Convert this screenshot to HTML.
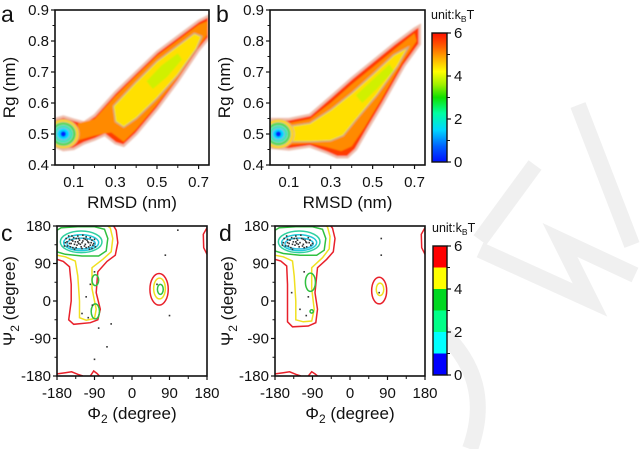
<!DOCTYPE html>
<html><head><meta charset="utf-8"><style>
html,body{margin:0;padding:0;background:#fff;}
svg{display:block;font-family:"Liberation Sans",Arial,sans-serif;}
</style></head><body>
<svg id="fig" width="640" height="449" viewBox="0 0 640 449" xmlns="http://www.w3.org/2000/svg">
<defs>
<filter id="soft" x="-5%" y="-5%" width="110%" height="110%"><feGaussianBlur stdDeviation="0.9"/></filter>
<linearGradient id="jet" x1="0" y1="1" x2="0" y2="0">
<stop offset="0" stop-color="#0010ff"/><stop offset="0.12" stop-color="#0060ff"/><stop offset="0.25" stop-color="#00d8ff"/>
<stop offset="0.38" stop-color="#00ffa0"/><stop offset="0.5" stop-color="#10e000"/><stop offset="0.6" stop-color="#a0f000"/>
<stop offset="0.7" stop-color="#ffff00"/><stop offset="0.8" stop-color="#ffb000"/><stop offset="0.9" stop-color="#ff5a00"/><stop offset="1" stop-color="#ff1000"/>
</linearGradient>
</defs>
<g stroke="#f0f0f0" fill="none" stroke-width="16">
<path d="M578 105 L632 245"/><path d="M535 165 L480 240"/><path d="M480 250 L590 300 L560 240 L635 275"/>
<path d="M440 330 Q495 380 470 449"/>
</g>
<g id="plots"></g>
</svg>
<script>
// ===== Data: panel a (RMSD nm, Rg nm) =====
const aOuter = [[0.01,0.548],[0.05,0.556],[0.1,0.546],[0.15,0.537],[0.2,0.56],[0.3,0.635],[0.4,0.70],[0.5,0.765],[0.6,0.815],[0.7,0.865],[0.75,0.882],[0.75,0.81],[0.7,0.77],[0.6,0.67],[0.5,0.58],[0.4,0.50],[0.34,0.462],[0.3,0.47],[0.25,0.497],[0.2,0.482],[0.15,0.47],[0.1,0.452],[0.05,0.448],[0.01,0.46]];
const aOrange = [[0.12,0.535],[0.2,0.548],[0.3,0.622],[0.4,0.688],[0.5,0.752],[0.6,0.802],[0.7,0.852],[0.745,0.865],[0.742,0.82],[0.7,0.782],[0.6,0.68],[0.5,0.595],[0.4,0.515],[0.34,0.475],[0.28,0.505],[0.2,0.495],[0.12,0.48]];
const aYellow = [[0.29,0.59],[0.4,0.668],[0.5,0.735],[0.6,0.785],[0.68,0.825],[0.715,0.815],[0.69,0.775],[0.6,0.69],[0.5,0.615],[0.4,0.55],[0.34,0.522],[0.3,0.54]];
const aLime = [[0.45,0.67],[0.52,0.72],[0.6,0.76],[0.62,0.74],[0.55,0.685],[0.48,0.645]];
const aBasin = [[0.05,0.5,0.075,0.047],[0.05,0.5,0.06,0.038],[0.05,0.5,0.046,0.029],[0.05,0.5,0.032,0.02],[0.05,0.5,0.013,0.009]];
// ===== Data: panel b =====
const bOuter = [[0.01,0.548],[0.1,0.548],[0.2,0.562],[0.3,0.62],[0.4,0.68],[0.5,0.735],[0.6,0.79],[0.7,0.84],[0.725,0.85],[0.725,0.79],[0.65,0.72],[0.55,0.6],[0.48,0.52],[0.42,0.45],[0.38,0.425],[0.33,0.425],[0.28,0.44],[0.2,0.46],[0.1,0.45],[0.01,0.456]];
const bOrange = [[0.1,0.535],[0.2,0.548],[0.3,0.6],[0.4,0.66],[0.5,0.715],[0.6,0.77],[0.7,0.825],[0.71,0.8],[0.64,0.73],[0.54,0.61],[0.46,0.52],[0.4,0.46],[0.35,0.445],[0.28,0.458],[0.2,0.47],[0.1,0.465]];
const bYellow = [[0.1,0.525],[0.2,0.535],[0.3,0.578],[0.4,0.632],[0.5,0.692],[0.6,0.755],[0.67,0.78],[0.62,0.72],[0.52,0.625],[0.42,0.545],[0.36,0.495],[0.3,0.478],[0.2,0.475],[0.1,0.475]];
const bLime = [[0.42,0.625],[0.5,0.675],[0.58,0.725],[0.6,0.705],[0.52,0.645],[0.45,0.6]];
const bBasin = [[0.05,0.5,0.075,0.047],[0.05,0.5,0.058,0.037],[0.05,0.5,0.045,0.028],[0.05,0.5,0.031,0.019],[0.05,0.5,0.013,0.009]];
// ===== Data: panel c (Phi2, Psi2 degrees) =====
const cRed = [[-180,100],[-165,95],[-150,82],[-146,40],[-146,0],[-152,-45],[-140,-56],[-100,-52],[-82,-45],[-76,-20],[-86,20],[-82,70],[-60,95],[-40,110],[-34,140],[-38,170],[-44,180]];
const cYellow = [[-180,110],[-160,106],[-136,96],[-130,60],[-126,0],[-126,-40],[-110,-46],[-90,-42],[-86,-20],[-96,30],[-96,80],[-70,100],[-50,118],[-46,150],[-52,175],[-58,180]];
const cGreen = [[-180,118],[-160,112],[-120,108],[-80,108],[-62,120],[-58,150],[-66,172],[-90,178],[-130,178],[-170,176],[-180,170]];
const cLoops = [[-88,50,8,13],[-88,-25,10,18]];
const cRings = [[-122,142,50,26],[-122,140,42,19],[-122,138,34,13]];
const cSide = [[65,28,22,38],[66,30,14,25],[68,28,7,12]];
const cEdge = [[180,112],[172,128],[171,160],[180,176]];
const cBottom = [[-180,-175],[-160,-172],[-145,-170],[-130,-176],[-118,-180]];
const cBottom2 = [[-100,-180],[-92,-168],[-84,-174],[-78,-180]];
const cDots = [[-160,140],[-155,132],[-150,148],[-146,138],[-142,128],[-140,152],[-136,142],[-132,134],[-130,156],[-126,146],[-122,130],[-120,140],[-116,150],[-112,136],[-108,146],[-104,130],[-100,152],[-98,140],[-94,134],[-90,148],[-152,156],[-144,146],[-118,158],[-110,128],[-134,150],[-128,138],[-106,142],[-96,126],[-158,150],[-138,124],[-162,132],[-156,142],[-148,130],[-144,156],[-138,136],[-134,128],[-128,150],[-124,136],[-118,144],[-114,132],[-110,154],[-104,140],[-102,124],[-96,146],[-92,138],[-88,130],[-150,138],[-142,144],[-130,142],[-120,126],[-112,148],[-100,134],[-90,70],[-100,40],[-110,10],[-95,-10],[-120,-30],[-105,-40],[-80,-65],[-50,-55],[-90,-140],[-60,-110],[90,-35],[80,110],[110,170],[60,40]];
// ===== Data: panel d =====
const dRed = [[-180,100],[-166,96],[-152,84],[-150,40],[-150,0],[-150,-50],[-138,-62],[-100,-60],[-82,-52],[-78,-20],[-84,20],[-78,80],[-56,100],[-40,118],[-36,150],[-42,175],[-46,180]];
const dYellow = [[-180,110],[-160,106],[-138,96],[-134,60],[-130,0],[-130,-45],[-112,-50],[-92,-48],[-86,-20],[-92,30],[-92,80],[-66,104],[-50,125],[-48,155],[-54,178],[-58,180]];
const dGreen = [[-180,120],[-160,114],[-120,110],[-80,110],[-62,122],[-58,150],[-66,172],[-90,178],[-130,178],[-170,176],[-180,170]];
const dLoops = [[-95,45,12,22],[-92,-25,4,4]];
const dRings = [[-122,142,50,26],[-122,140,42,19],[-122,138,34,13]];
const dSide = [[70,25,18,32],[72,28,9,15]];
const dEdge = [[180,112],[172,128],[171,160],[180,176]];
const dBottom = [[-180,-175],[-160,-172],[-145,-170],[-130,-176],[-118,-180]];
const dBottom2 = [[-100,-180],[-92,-170],[-84,-175],[-78,-180]];
const dDots = [[-160,140],[-155,132],[-150,148],[-146,138],[-142,128],[-140,152],[-136,142],[-132,134],[-130,156],[-126,146],[-122,130],[-120,140],[-116,150],[-112,136],[-108,146],[-104,130],[-100,152],[-98,140],[-94,134],[-152,156],[-144,146],[-118,158],[-110,128],[-134,150],[-128,138],[-106,142],[-158,150],[-138,124],[-162,134],[-148,132],[-138,136],[-128,150],[-124,136],[-114,132],[-104,140],[-96,146],[-90,138],[-150,140],[-130,142],[-112,148],[-110,70],[-100,10],[-120,-20],[-105,-35],[-140,20],[70,20],[75,150],[75,110]];
// ===== Axis ticks =====
const rgTicks = [0.4,0.5,0.6,0.7,0.8,0.9];
const rmsdTicks = [0.1,0.3,0.5,0.7];
const rmsdMinor = [0.2,0.4,0.6];
const angTicks = [-180,-90,0,90,180];
const angMinor = [-135,-45,45,135];
const cbTicks = [0,2,4,6];
const cbMinor = [1,3,5];
const dBands = [0,1,2,3,4,5];

const NS="http://www.w3.org/2000/svg";
const root=document.getElementById('plots');
const TK=15, TT=17;
function mk(tag,attrs,parent){const e=document.createElementNS(NS,tag);for(const k in attrs)e.setAttribute(k,attrs[k]);(parent||root).appendChild(e);return e;}
function txt(s,x,y,size,anchor,parent){const t=mk('text',{x:x,y:y,'font-size':size,'text-anchor':anchor||'middle',fill:'#111'},parent);t.textContent=s;return t;}
function lin(d0,d1,p0,p1){return v=>p0+(v-d0)/(d1-d0)*(p1-p0);}
function pts(arr,sx,sy){return arr.map(p=>sx(p[0]).toFixed(1)+','+sy(p[1]).toFixed(1)).join(' ');}

function panelRg(id,L,R,outer,orange,yellow,lime,basin,label){
  const T=10,B=165;
  const sx=lin(0.01,0.75,L,R), sy=lin(0.4,0.9,B,T);
  const g=mk('g',{});
  
  
  const clipId='clip'+id;
  const cp=mk('clipPath',{id:clipId},g);mk('rect',{x:L,y:T,width:R-L,height:B-T},cp);
  const lg=mk('g',{'clip-path':'url(#'+clipId+')'},g);
  
  
  const fg=mk('g',{filter:'url(#soft)'},lg);
  const e1=mk('polygon',{points:pts(outer,sx,sy),fill:'#ff3c00',stroke:'#eec0b0','stroke-width':2.5},fg);
  
  const e2=mk('polygon',{points:pts(orange,sx,sy),fill:'#ff8a00'},fg);
  
  const e3=mk('polygon',{points:pts(yellow,sx,sy),fill:'#ffe000',stroke:'#c8b090','stroke-width':1.2},fg);
  
  const e4=mk('polygon',{points:pts(lime,sx,sy),fill:'#d0f000'},fg);
  
  const bcol=['#ffd800','#30e030','#00f0b0','#00d8ff','#0020ff'];
  const bstroke=['#e0b080','#b0c0a0','#a0c0c0','#90b0d0','none'];
  basin.forEach((b,i)=>{const el=mk('ellipse',{cx:sx(b[0]),cy:sy(b[1]),rx:Math.abs(sx(b[0]+b[2])-sx(b[0])),ry:Math.abs(sy(b[1]+b[3])-sy(b[1])),fill:bcol[i],stroke:bstroke[i],'stroke-width':1},fg);
    });
  const fr=mk('rect',{x:L,y:T,width:R-L,height:B-T,fill:'none',stroke:'#111','stroke-width':1.6},g);
  
  rgTicks.forEach(v=>{mk('line',{x1:L-4,x2:L,y1:sy(v),y2:sy(v),stroke:'#111','stroke-width':1.2},g);
    const t=txt(v.toFixed(1),L-6,sy(v)+5,TK,'end',g);
    if(v<0.9){mk('line',{x1:L-2.5,x2:L,y1:sy(v+0.05),y2:sy(v+0.05),stroke:'#111','stroke-width':1},g);}});
  rmsdTicks.forEach(v=>{mk('line',{x1:sx(v),x2:sx(v),y1:B,y2:B+4,stroke:'#111','stroke-width':1.2},g);
    const t=txt(v.toFixed(1),sx(v),B+22,TK,'middle',g);});
  rmsdMinor.forEach(v=>mk('line',{x1:sx(v),x2:sx(v),y1:B,y2:B+3,stroke:'#111','stroke-width':1},g));
  const xt=txt('RMSD (nm)',(L+R)/2,B+43,TT,'middle',g);
  const yt=txt('Rg (nm)',0,0,TT,'middle',g);yt.setAttribute('transform','translate('+(L-40)+','+((T+B)/2)+') rotate(-90)');
  
  const pl=txt(label,L-54,22,23,'start',g);
}

function panelRama(id,L,R,red,yellow,green,loops,rings,side,edge,bottom,bottom2,dots,label){
  const T=226,B=376;
  const sx=lin(-180,180,L,R), sy=lin(-180,180,B,T);
  const g=mk('g',{});
  
  
  const clipId='clip'+id;
  const cp=mk('clipPath',{id:clipId},g);mk('rect',{x:L,y:T,width:R-L,height:B-T},cp);
  const lg=mk('g',{'clip-path':'url(#'+clipId+')',fill:'none','stroke-width':1.5},g);
  
  
  const open=(arr,col,nm)=>{const e=mk('polyline',{points:pts(arr,sx,sy),stroke:col,fill:'none'},lg);};
  const ell=(arr,cols,nm)=>arr.forEach((b,i)=>{const e=mk('ellipse',{cx:sx(b[0]),cy:sy(b[1]),rx:Math.abs(sx(b[0]+b[2])-sx(b[0])),ry:Math.abs(sy(b[1]+b[3])-sy(b[1])),stroke:cols[i%cols.length],fill:'none'},lg);
    });
  open(red,'#e8202a','contour-red');
  open(yellow,'#f0e020','contour-yellow');
  const gp=mk('polygon',{points:pts(green,sx,sy),stroke:'#30c040',fill:'none'},lg);
  
  ell(loops,['#30c040'],'contour-green-loop');
  ell(rings,['#30d0a0','#20c8d8','#30c0e0'],'contour-inner');
  ell(side,['#e8202a','#f0e020','#30c040'],'contour-side-basin');
  open(edge,'#e8202a','contour-edge');
  open(bottom,'#e8202a','contour-bottom');
  open(bottom2,'#e8202a','contour-bottom');
  dots.forEach(p=>{const d=mk('rect',{x:sx(p[0])-0.8,y:sy(p[1])-0.8,width:1.6,height:1.6,fill:'#333'},lg);
    });
  const fr=mk('rect',{x:L,y:T,width:R-L,height:B-T,fill:'none',stroke:'#111','stroke-width':1.6},g);
  
  angTicks.forEach(v=>{mk('line',{x1:L-4,x2:L,y1:sy(v),y2:sy(v),stroke:'#111','stroke-width':1.2},g);
    mk('line',{x1:sx(v),x2:sx(v),y1:B,y2:B+4,stroke:'#111','stroke-width':1.2},g);
    const t=txt(String(v),L-6,sy(v)+5,TK,'end',g);
    const u=txt(String(v),sx(v),B+22,TK,'middle',g);});
  angMinor.forEach(v=>{mk('line',{x1:L-2.5,x2:L,y1:sy(v),y2:sy(v),stroke:'#111','stroke-width':1},g);
    mk('line',{x1:sx(v),x2:sx(v),y1:B,y2:B+3,stroke:'#111','stroke-width':1},g);});
  const xt=mk('text',{x:(L+R)/2,y:B+43,'font-size':TT,'text-anchor':'middle',fill:'#111'},g);
  xt.innerHTML='Φ<tspan font-size="12" dy="4">2</tspan><tspan dy="-4"> (degree)</tspan>';
  
  const yt=mk('text',{'font-size':TT,'text-anchor':'middle',fill:'#111',transform:'translate('+(L-42)+','+((T+B)/2)+') rotate(-90)'},g);
  yt.innerHTML='Ψ<tspan font-size="12" dy="4">2</tspan><tspan dy="-4"> (degree)</tspan>';
  
  const pl=txt(label,L-56,241,23,'start',g);
}

function colorbar(id,L,T,W,B,discrete,unitY){
  const sy=lin(0,6,B,T);
  const g=mk('g',{});
  
  
  if(discrete){const cols=['#0000ff','#00ffff','#00ff88','#00d820','#ffff00','#ff0000'];
    dBands.forEach((v,i)=>mk('rect',{x:L,y:sy(v+1),width:W,height:sy(v)-sy(v+1),fill:cols[i]},g));}
  else mk('rect',{x:L,y:T,width:W,height:B-T,fill:'url(#jet)'},g);
  mk('rect',{x:L,y:T,width:W,height:B-T,fill:'none',stroke:'#111','stroke-width':1.4},g);
  cbTicks.forEach(v=>{mk('line',{x1:L+W,x2:L+W+4,y1:sy(v),y2:sy(v),stroke:'#111','stroke-width':1.2},g);
    const t=txt(String(v),L+W+7,sy(v)+5,TK,'start',g);});
  cbMinor.forEach(v=>mk('line',{x1:L+W,x2:L+W+3,y1:sy(v),y2:sy(v),stroke:'#111','stroke-width':1},g));
  const u=mk('text',{x:L-1,y:unitY,'font-size':12.5,fill:'#111'},g);
  u.innerHTML='unit:k<tspan font-size="8.5" dy="3">B</tspan><tspan dy="-3">T</tspan>';
  
}

panelRg('a',55,209,aOuter,aOrange,aYellow,aLime,aBasin,'a');
panelRg('b',270,425,bOuter,bOrange,bYellow,bLime,bBasin,'b');
panelRama('c',57,207,cRed,cYellow,cGreen,cLoops,cRings,cSide,cEdge,cBottom,cBottom2,cDots,'c');
panelRama('d',275,425,dRed,dYellow,dGreen,dLoops,dRings,dSide,dEdge,dBottom,dBottom2,dDots,'d');
colorbar('b',432,33,15,162,false,19);
colorbar('d',433,246,14,375,true,232);
</script>
</body></html>
